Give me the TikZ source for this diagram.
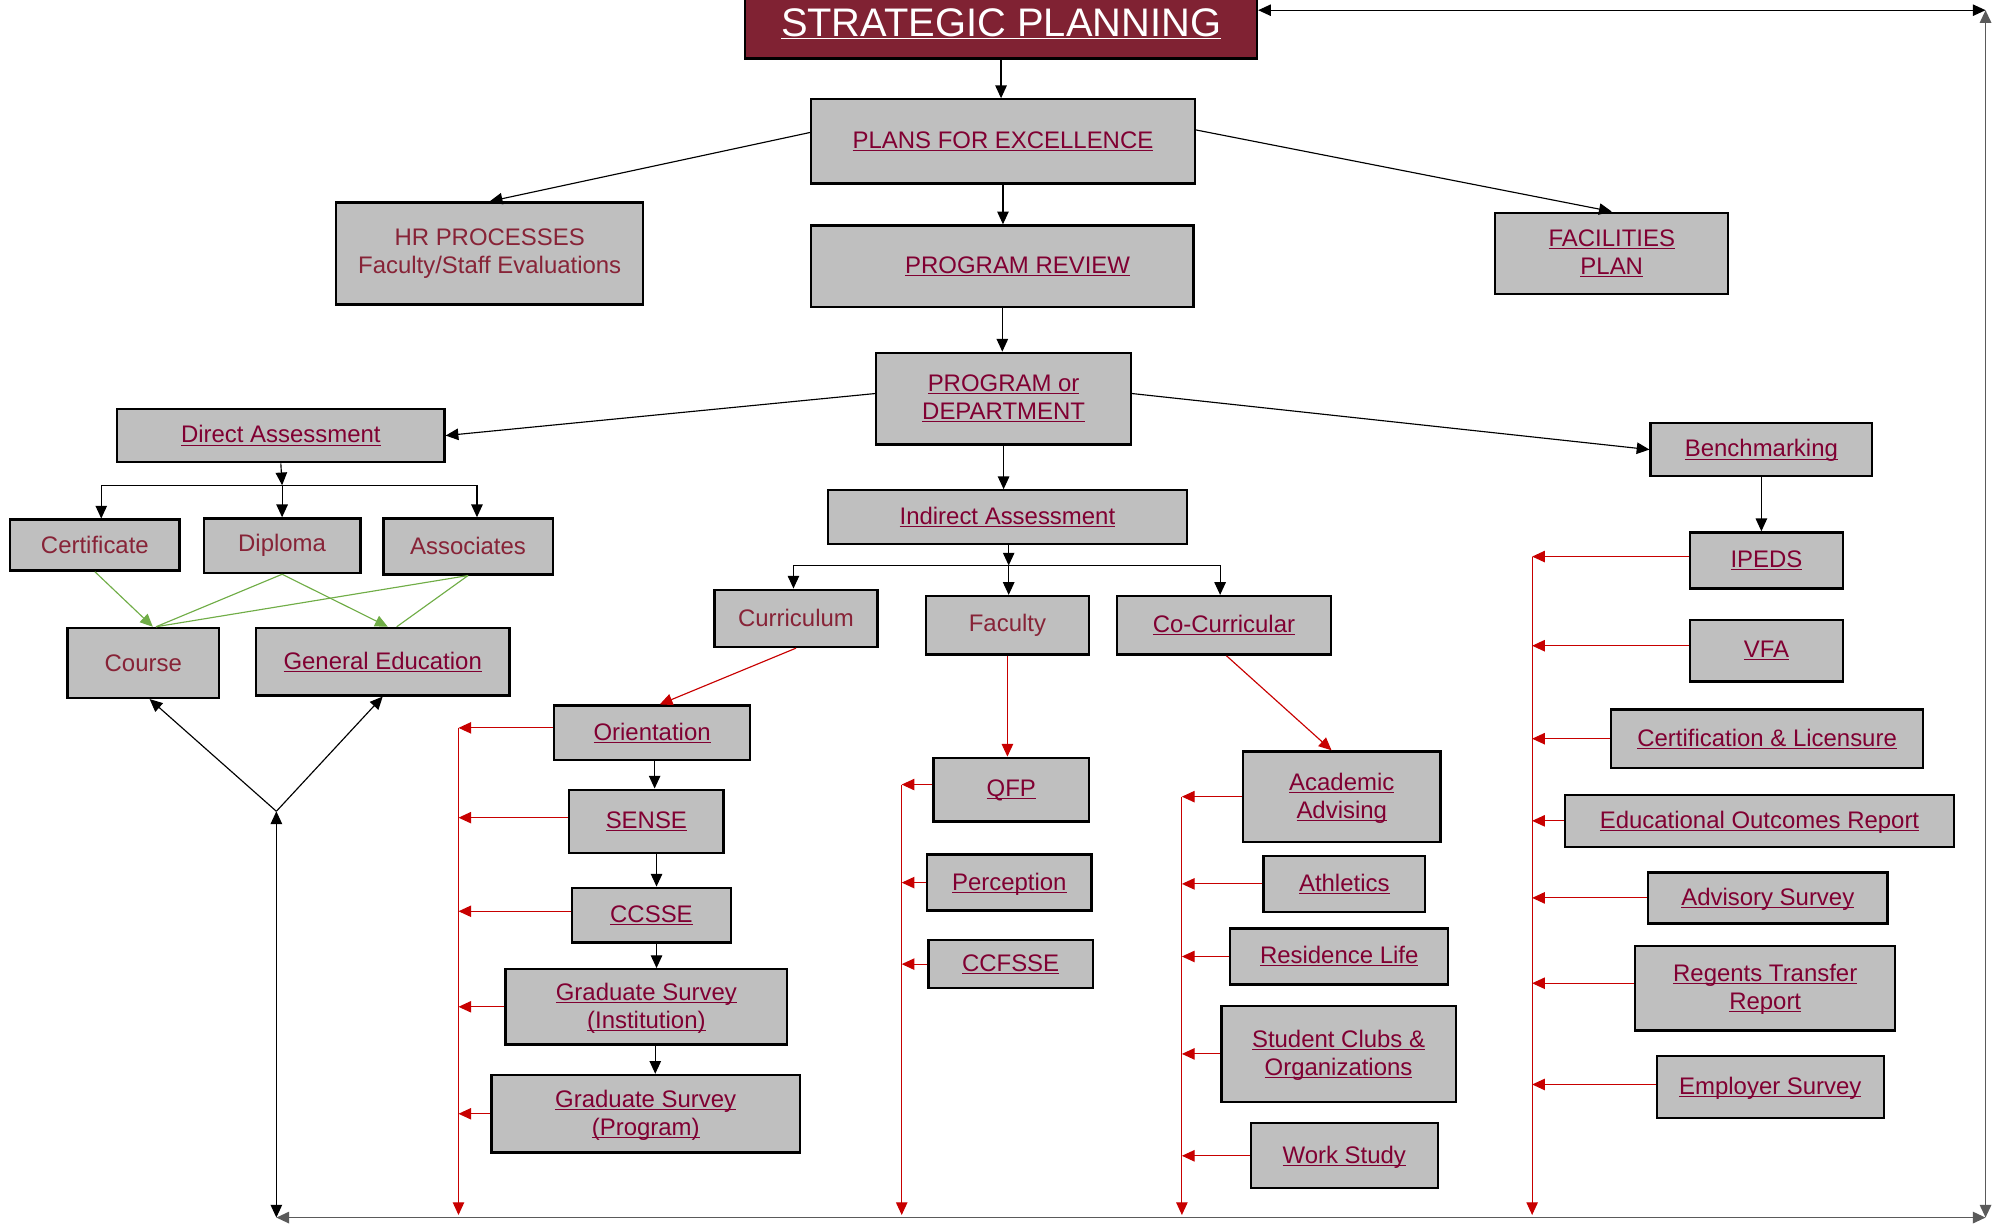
\documentclass[tikz,border=0pt]{standalone}
\usepackage{fontspec}
\setmainfont{Liberation Sans}
\usepackage{xcolor}
\usepackage{tikz}
\usetikzlibrary{arrows.meta,positioning}
\definecolor{spred}{RGB}{128,34,51}
\definecolor{boxgray}{RGB}{191,191,191}
\definecolor{linkred}{RGB}{128,0,50}
\definecolor{plainred}{RGB}{135,35,55}
\definecolor{linered}{RGB}{200,0,0}
\definecolor{linegreen}{RGB}{112,173,71}
\definecolor{loopgray}{RGB}{90,90,90}
\newcommand{\lnk}[1]{\underline{\raisebox{0pt}[\height][0pt]{#1}}}

\begin{document}
\begin{tikzpicture}[x=1pt,y=-1pt,font=\fontsize{18.8}{22}\selectfont,
   box/.style={draw,line width=1.8pt,fill=boxgray,text=linkred,align=center,inner sep=2pt},
   plain/.style={box,text=plainred},
   arr/.style={-{Triangle[length=10pt,width=9pt]},line width=0.9pt},
   twoway/.style={{Triangle[length=10pt,width=9pt]}-{Triangle[length=10pt,width=9pt]},line width=0.9pt},
   redarr/.style={arr,draw=linered},
   greenarr/.style={arr,draw=linegreen}]
  \useasboundingbox (0,0) rectangle (1568,962);
  % top of the chart
  \node[draw,line width=1.8pt,fill=spred,text=white,minimum width=402,minimum height=54,
        font=\fontsize{31.3}{36}\selectfont] (sp) at (786,19) {\lnk{STRATEGIC PLANNING}};
  \node[box,minimum width=301,minimum height=66] (pfe) at (787.5,111) {\lnk{PLANS FOR EXCELLENCE}};
  \node[plain,minimum width=241,minimum height=80] (hr) at (384.5,199) {HR PROCESSES\\Faculty/Staff Evaluations};
  \node[box,minimum width=300,minimum height=64] (pr) at (787,209) {\hspace*{24pt}\lnk{PROGRAM REVIEW}};
  \node[box,minimum width=183,minimum height=64] (fac) at (1265.5,199) {\lnk{FACILITIES}\\\lnk{PLAN}};
  \node[box,minimum width=200,minimum height=72] (pod) at (788,313) {\lnk{PROGRAM or}\\\lnk{DEPARTMENT}};
  \draw[arr] (sp.south) -- (sp.south |- pfe.north);
  \draw[arr] (pfe.south) -- (pfe.south |- pr.north);
  \draw[arr] ([yshift=7]pfe.west) -- (hr.north);
  \draw[arr] ([yshift=9]pfe.east) -- (fac.north);
  \draw[arr] (pr.south) -- (pr.south |- pod.north);

  % direct assessment
  \node[box,minimum width=257,minimum height=42] (da) at (220.5,342) {\lnk{Direct Assessment}};
  \node[plain,minimum width=133,minimum height=40] (cert) at (74.5,428) {Certificate};
  \node[plain,minimum width=123,minimum height=43] (dip) at (221.5,428.5) {Diploma};
  \node[plain,minimum width=133,minimum height=44] (assoc) at (367.5,429) {Associates};
  \node[plain,minimum width=119,minimum height=55] (course) at (112.5,520.5) {Course};
  \node[box,minimum width=199,minimum height=53] (ge) at (300.5,519.5) {\lnk{General Education}};
  \coordinate (dabus) at (221.5,381);
  \coordinate (join) at (217,637);
  \draw[arr] ([yshift=4]pod.west) -- (da.east);
  \draw[arr] (da.south) -- (dabus);
  \draw[arr] (dabus) -| ([xshift=5]cert.north);
  \draw[arr] (dabus) -- (dip.north);
  \draw[arr] (dabus) -| ([xshift=7]assoc.north);
  \draw[greenarr] (cert.south) -- ([xshift=7.5]course.north);
  \draw[linegreen,line width=0.9pt] (dip.south) -- ([xshift=10]course.north);
  \draw[linegreen,line width=0.9pt] (assoc.south) -- ([xshift=10]course.north);
  \draw[greenarr] (dip.south) -- ([xshift=4]ge.north);
  \draw[linegreen,line width=0.9pt] (assoc.south) -- ([xshift=11]ge.north);
  \draw[arr] (join) -- ([xshift=5]course.south);
  \draw[arr] (join) -- (ge.south);

  % indirect assessment
  \node[box,minimum width=282,minimum height=42] (ia) at (791,406) {\lnk{Indirect Assessment}};
  \node[plain,minimum width=128,minimum height=45] (curr) at (625,485.5) {Curriculum};
  \node[plain,minimum width=128,minimum height=46] (facu) at (791,491) {Faculty};
  \node[box,minimum width=168,minimum height=46] (cocur) at (961,491) {\lnk{Co-Curricular}};
  \coordinate (iabus) at (792,444);
  \draw[arr] (pod.south) -- (pod.south |- ia.north);
  \draw[arr] (ia.south -| iabus) -- (iabus);
  \draw[arr] (iabus) -| ([xshift=-2]curr.north);
  \draw[arr] (iabus) -- (iabus |- facu.north);
  \draw[arr] (iabus) -| ([xshift=-3]cocur.north);

  % curriculum
  \node[box,minimum width=154,minimum height=43] (orient) at (512,575.5) {\lnk{Orientation}};
  \node[box,minimum width=121,minimum height=50] (sense) at (507.5,645) {\lnk{SENSE}};
  \node[box,minimum width=125,minimum height=43] (ccsse) at (511.5,718.5) {\lnk{CCSSE}};
  \node[box,minimum width=221,minimum height=59] (gsi) at (507.5,790.5) {\lnk{Graduate Survey}\\\lnk{(Institution)}};
  \node[box,minimum width=242,minimum height=61] (gsp) at (507,874.5) {\lnk{Graduate Survey}\\\lnk{(Program)}};
  \coordinate (currbus) at (360,954);
  \draw[redarr] (curr.south) -- ([xshift=6]orient.north);
  \draw[arr] ([xshift=2]orient.south) -- ([xshift=2]orient.south |- sense.north);
  \draw[arr] ([xshift=8]sense.south) -- ([xshift=8]sense.south |- ccsse.north);
  \draw[arr] ([xshift=4]ccsse.south) -- ([xshift=4]ccsse.south |- gsi.north);
  \draw[arr] ([xshift=7]gsi.south) -- ([xshift=7]gsi.south |- gsp.north);
  \draw[redarr] ([yshift=4]orient.west -| currbus) -- (currbus);
  \draw[redarr] ([yshift=4]orient.west) -- ([yshift=4]orient.west -| currbus);
  \draw[redarr] ([yshift=3]sense.west) -- ([yshift=3]sense.west -| currbus);
  \draw[redarr] ([yshift=3]ccsse.west) -- ([yshift=3]ccsse.west -| currbus);
  \draw[redarr] (gsi.west) -- (gsi.west -| currbus);
  \draw[redarr] (gsp.west) -- (gsp.west -| currbus);

  % faculty
  \node[box,minimum width=122,minimum height=50] (qfp) at (794,620) {\lnk{QFP}};
  \node[box,minimum width=129,minimum height=44] (perc) at (792.5,693) {\lnk{Perception}};
  \node[box,minimum width=129,minimum height=38] (ccfsse) at (793.5,757) {\lnk{CCFSSE}};
  \coordinate (facbus) at (708,954);
  \draw[redarr] (facu.south) -- (facu.south |- qfp.north);
  \draw[redarr] ([yshift=4]qfp.west -| facbus) -- (facbus);
  \draw[redarr] ([yshift=4]qfp.west) -- ([yshift=4]qfp.west -| facbus);
  \draw[redarr] (perc.west) -- (perc.west -| facbus);
  \draw[redarr] (ccfsse.west) -- (ccfsse.west -| facbus);

  % co-curricular
  \node[box,minimum width=155,minimum height=71] (acad) at (1053.5,625.5) {\lnk{Academic}\\\lnk{Advising}};
  \node[box,minimum width=127,minimum height=44] (ath) at (1055.5,694) {\lnk{Athletics}};
  \node[box,minimum width=171,minimum height=44] (resl) at (1051.5,751) {\lnk{Residence Life}};
  \node[box,minimum width=184,minimum height=75] (sco) at (1051,827.5) {\lnk{Student Clubs \&}\\\lnk{Organizations}};
  \node[box,minimum width=147,minimum height=51] (ws) at (1055.5,907.5) {\lnk{Work Study}};
  \coordinate (cocbus) at (928,954);
  \draw[redarr] ([xshift=2]cocur.south) -- ([xshift=-8]acad.north);
  \draw[redarr] (acad.west -| cocbus) -- (cocbus);
  \draw[redarr] (acad.west) -- (acad.west -| cocbus);
  \draw[redarr] (ath.west) -- (ath.west -| cocbus);
  \draw[redarr] (resl.west) -- (resl.west -| cocbus);
  \draw[redarr] (sco.west) -- (sco.west -| cocbus);
  \draw[redarr] (ws.west) -- (ws.west -| cocbus);

  % benchmarking
  \node[box,minimum width=174,minimum height=42] (bm) at (1383,353) {\lnk{Benchmarking}};
  \node[box,minimum width=120,minimum height=44] (ipeds) at (1387,440) {\lnk{IPEDS}};
  \node[box,minimum width=120,minimum height=48] (vfa) at (1387,511) {\lnk{VFA}};
  \node[box,minimum width=245,minimum height=46] (cl) at (1387.5,580) {\lnk{Certification \& Licensure}};
  \node[box,minimum width=305,minimum height=41] (eor) at (1381.5,644.5) {\lnk{Educational Outcomes Report}};
  \node[box,minimum width=188,minimum height=40] (advs) at (1388,705) {\lnk{Advisory Survey}};
  \node[box,minimum width=204,minimum height=66] (rtr) at (1386,776) {\lnk{Regents Transfer}\\\lnk{Report}};
  \node[box,minimum width=178,minimum height=49] (emps) at (1390,853.5) {\lnk{Employer Survey}};
  \coordinate (bmbus) at (1203,954);
  \draw[arr] ([yshift=4]pod.east) -- (bm.west);
  \draw[arr] (bm.south) -- (bm.south |- ipeds.north);
  \draw[redarr] ([yshift=3]ipeds.west -| bmbus) -- (bmbus);
  \draw[redarr] ([yshift=3]ipeds.west) -- ([yshift=3]ipeds.west -| bmbus);
  \draw[redarr] ([yshift=4]vfa.west) -- ([yshift=4]vfa.west -| bmbus);
  \draw[redarr] (cl.west) -- (cl.west -| bmbus);
  \draw[redarr] (eor.west) -- (eor.west -| bmbus);
  \draw[redarr] (advs.west) -- (advs.west -| bmbus);
  \draw[redarr] ([yshift=4]rtr.west) -- ([yshift=4]rtr.west -| bmbus);
  \draw[redarr] ([yshift=2]emps.west) -- ([yshift=2]emps.west -| bmbus);

  % loop round the chart
  \coordinate (botleft) at (217,956);
  \coordinate (botright) at (1559,956);
  \coordinate (topright) at (1559,8);
  \draw[twoway] (botleft) -- (join);
  \draw[twoway,draw=loopgray,line width=1.3pt] (botleft) -- (botright);
  \draw[twoway,draw=loopgray,line width=1.3pt] (botright) -- (topright);
  \draw[twoway] (sp.east |- topright) -- (topright);
\end{tikzpicture}
\end{document}
